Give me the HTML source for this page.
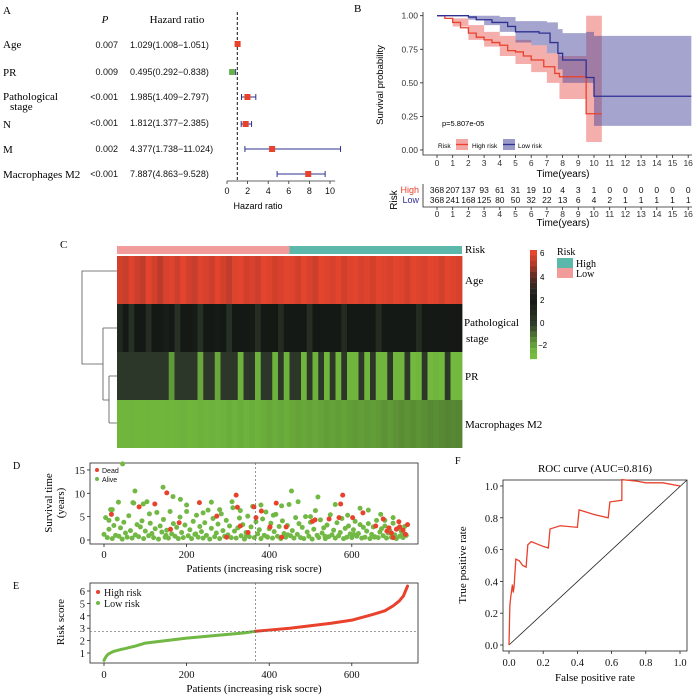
<!DOCTYPE html>
<html><head><meta charset="utf-8">
<style>
body{margin:0;background:#fff;}
svg{display:block;}
.serif{font-family:"Liberation Serif",serif;}
.sans{font-family:"Liberation Sans",sans-serif;}
</style></head>
<body>
<svg id="fig" width="700" height="700" viewBox="0 0 700 700">
<rect width="700" height="700" fill="#fff"/>
<g id="pA">
<text x="3" y="14" class="serif" font-size="11">A</text>
<text x="105" y="23" class="serif" font-size="11" font-style="italic" text-anchor="middle">P</text>
<text x="177" y="23" class="serif" font-size="11" text-anchor="middle">Hazard ratio</text>
<g class="serif" font-size="11">
<text x="3" y="48">Age</text><text x="3" y="76">PR</text>
<text x="3" y="100">Pathological</text><text x="10" y="110">stage</text>
<text x="3" y="128">N</text><text x="3" y="153">M</text><text x="3" y="178">Macrophages M2</text>
</g>
<g class="sans" font-size="9" text-anchor="end" fill="#111">
<text x="118" y="48">0.007</text><text x="118" y="75">0.009</text><text x="118" y="100">&lt;0.001</text>
<text x="118" y="126">&lt;0.001</text><text x="118" y="152">0.002</text><text x="118" y="177">&lt;0.001</text>
</g>
<g class="sans" font-size="9" fill="#111">
<text x="130" y="48">1.029(1.008−1.051)</text><text x="130" y="75">0.495(0.292−0.838)</text>
<text x="130" y="100">1.985(1.409−2.797)</text><text x="130" y="126">1.812(1.377−2.385)</text>
<text x="130" y="152">4.377(1.738−11.024)</text><text x="130" y="177">7.887(4.863−9.528)</text>
</g>
<text x="258" y="209" class="sans" font-size="9" text-anchor="middle">Hazard ratio</text>
</g>
<g id="pB">
<text x="354" y="12" class="serif" font-size="11">B</text>
<text transform="translate(383,85) rotate(-90)" class="sans" font-size="9.5" text-anchor="middle">Survival probability</text>
<text x="442" y="126" class="sans" font-size="7.5">p=5.807e-05</text>
<text x="563" y="177" class="sans" font-size="10" text-anchor="middle">Time(years)</text>
<text x="563" y="226" class="sans" font-size="10" text-anchor="middle">Time(years)</text>
<text transform="translate(397,200) rotate(-90)" class="sans" font-size="10" text-anchor="middle">Risk</text>
<text x="419" y="193" class="sans" font-size="9" text-anchor="end" fill="#e8412c">High</text>
<text x="419" y="203" class="sans" font-size="9" text-anchor="end" fill="#2e3192">Low</text>
<g>
<text x="438" y="148" class="sans" font-size="6.5">Risk</text>
<rect x="456" y="139" width="12" height="11" fill="#f4a6a4"/><line x1="456" y1="144.5" x2="468" y2="144.5" stroke="#e8412c" stroke-width="1.3"/>
<text x="472" y="148" class="sans" font-size="6.5">High risk</text>
<rect x="503" y="139" width="12" height="11" fill="#9a9ac8"/><line x1="503" y1="144.5" x2="515" y2="144.5" stroke="#2e3192" stroke-width="1.3"/>
<text x="518" y="148" class="sans" font-size="6.5">Low risk</text>
</g>
</g>
<g id="pC">
<text x="60" y="248" class="serif" font-size="11">C</text>
<g class="serif" font-size="11">
<text x="465" y="253">Risk</text><text x="465" y="284">Age</text>
<text x="464" y="326">Pathological</text><text x="466" y="342">stage</text>
<text x="465" y="380">PR</text><text x="465" y="428">Macrophages M2</text>
</g>
<g class="sans" font-size="8">
<text x="540" y="256">6</text><text x="540" y="280">4</text><text x="540" y="303">2</text><text x="540" y="326">0</text><text x="538" y="348">−2</text>
</g>
<g>
<text x="557" y="255" class="serif" font-size="10">Risk</text>
<rect x="557" y="258" width="16" height="10" fill="#5cb8ab"/><text x="576" y="267" class="serif" font-size="10">High</text>
<rect x="557" y="268" width="16" height="10" fill="#f29b9b"/><text x="576" y="277" class="serif" font-size="10">Low</text>
</g>
</g>
<g id="pD">
<text x="13" y="469" class="serif" font-size="10">D</text>
<text transform="translate(52,503) rotate(-90)" class="serif" font-size="11" text-anchor="middle">Survival time</text>
<text transform="translate(64,503) rotate(-90)" class="serif" font-size="11" text-anchor="middle">(years)</text>
<text x="254" y="572" class="serif" font-size="11" text-anchor="middle">Patients (increasing risk socre)</text>
</g>
<g id="pE">
<text x="13" y="589" class="serif" font-size="10">E</text>
<text transform="translate(64,622) rotate(-90)" class="serif" font-size="11" text-anchor="middle">Risk score</text>
<text x="254" y="692" class="serif" font-size="11" text-anchor="middle">Patients (increasing risk socre)</text>
</g>
<g id="pF">
<text x="455" y="464" class="serif" font-size="10">F</text>
<text x="595" y="472" class="serif" font-size="11" text-anchor="middle">ROC curve (AUC=0.816)</text>
<text transform="translate(466,565) rotate(-90)" class="serif" font-size="11" text-anchor="middle">True positive rate</text>
<text x="595" y="681" class="serif" font-size="11" text-anchor="middle">False positive rate</text>
</g>
</svg>
<script>
// ---------- data ----------
const forestHR=[1.029,0.495,1.985,1.812,4.377,7.887];
const forestLo=[1.008,0.292,1.409,1.377,1.738,4.863];
const forestHi=[1.051,0.838,2.797,2.385,11.024,9.528];
const forestTicks=[0,2,4,6,8,10];

const kmHighT=[0,0.5,1,1.5,2,2.5,3,3.5,4,4.5,5,5.5,6,6.8,7.5,7.8,9.5,10.5];
const kmHighS=[1,0.98,0.95,0.91,0.87,0.84,0.82,0.8,0.78,0.74,0.73,0.7,0.67,0.62,0.57,0.545,0.27,0.27];
const kmHighBandT=[0,1,2,3,4,5,6,7,7.8,9.5,10.5];
const kmHighLo=[1,0.92,0.82,0.77,0.7,0.64,0.58,0.5,0.38,0.06,0.06];
const kmHighUp=[1,0.98,0.93,0.88,0.85,0.82,0.78,0.72,0.7,1.0,1.0];
const kmLowT=[0,2,2.5,3.5,4.5,5,6.5,7.2,7.7,8,9.5,10,16.2];
const kmLowS=[1,0.99,0.97,0.95,0.92,0.88,0.87,0.8,0.72,0.67,0.54,0.4,0.4];
const kmLowBandT=[0,2,3,4,5,6,7,7.7,8,9.5,10,16.2];
const kmLowLo=[1,0.97,0.93,0.88,0.8,0.78,0.72,0.6,0.5,0.5,0.18,0.18];
const kmLowUp=[1,1,1,0.99,0.96,0.96,0.95,0.9,0.87,0.88,0.85,0.85];
const kmYTicks=[0,0.25,0.5,0.75,1.0];
const kmYLabels=["0.00","0.25","0.50","0.75","1.00"];
const kmXTicks=[0,1,2,3,4,5,6,7,8,9,10,11,12,13,14,15,16];
const riskHigh=[368,207,137,93,61,31,19,10,4,3,1,0,0,0,0,0,0];
const riskLow=[368,241,168,125,80,50,32,22,13,6,4,2,1,1,1,1,1];

const heatAge=[5.6,5.4,5.8,5.5,5.3,5.9,5.6,5.2,5.7,5.8,5.5,5.9,5.6,5.4,5.8,5.7,5.5,5.9,5.6,5.3,5.8,5.9,5.6,5.7,5.5,5.9,5.8,5.6,5.7,5.9,5.8,5.6,5.9,5.7,5.5,5.9,5.8,5.7,5.9,5.6,5.8,5.9,5.7,5.8,5.6,5.9,5.8,5.7,5.9,5.8,5.6,5.9,5.8,5.7,5.9,5.8,5.6,5.9,5.8,5.7];
const heatPath=[1.2,2.0,0.8,2.0,2.0,0.9,2.0,2.0,1.8,2.0,0.8,2.0,2.0,1.9,0.8,2.0,2.0,1.9,2.0,0.8,2.0,2.0,2.0,1.9,0.9,2.0,2.0,2.0,1.0,2.0,2.0,2.0,2.0,0.9,2.0,2.0,2.0,2.0,2.0,1.0,2.0,2.0,2.0,2.0,2.0,1.0,2.0,2.0,2.0,2.0,2.0,2.0,1.0,2.0,2.0,2.0,2.0,2.0,2.0,2.0];
const heatPR=[0.4,0.4,0.4,0.4,0.4,0.4,0.4,0.4,0.4,-1.5,0.4,0.4,0.4,0.4,-1.8,0.4,0.4,-1.8,0.4,0.4,0.4,-2,0.4,0.4,-2,0.4,0.4,-2,0.4,-2,0.4,0.4,-2.2,0.4,-2,0.4,-2.2,0.4,-2.2,0.4,-2.2,-2.2,0.4,-2.2,0.4,-2.2,-2.2,0.4,-2.2,-2.2,0.4,-2.4,-2.2,0.4,-2.4,-2.2,-2.4,0.4,-2.4,-2.4];
const heatMac=[-2.2,-2.2,-2.1,-2.2,-2.2,-2.1,-2.2,-2.2,-2.1,-2.2,-2.1,-2.0,-2.2,-2.1,-2.0,-2.1,-2.0,-2.1,-2.0,-1.9,-2.0,-1.9,-2.0,-1.9,-2.0,-1.9,-1.8,-1.9,-1.8,-1.9,-1.8,-1.7,-1.8,-1.7,-1.8,-1.7,-1.6,-1.7,-1.6,-1.7,-1.6,-1.5,-1.6,-1.5,-1.6,-1.5,-1.4,-1.5,-1.4,-1.3,-1.4,-1.3,-1.4,-1.3,-1.2,-1.3,-1.2,-1.1,-1.2,-1.1];

const aliveTimes=[1.2,4.8,0.5,2.3,6.5,0.3,3.1,1.0,4.5,0.8,2.6,0.2,3.8,1.5,0.6,5.2,2.0,0.4,7.9,1.1,3.3,0.7,2.8,4.1,0.3,1.9,8.2,0.9,3.6,1.4,0.5,2.4,5.9,0.2,3.0,1.7,4.4,0.6,2.1,0.4,6.1,1.3,3.5,0.8,2.7,0.3,4.9,1.6,0.5,3.2,7.5,0.9,2.2,0.3,4.0,1.2,5.3,0.6,2.9,1.8,0.4,3.7,1.0,6.4,0.2,2.5,4.6,0.7,1.5,3.4,0.3,5.6,2.0,0.8,4.2,1.1,3.0,0.5,6.9,1.9,0.4,2.6,4.7,0.9,3.3,0.2,1.6,5.1,0.7,2.8,7.2,0.5,3.9,1.3,2.2,0.3,4.5,1.0,6.0,0.6,2.4,3.6,0.4,1.8,5.5,0.8,2.9,0.3,4.1,1.4,0.6,3.1,7.6,0.9,2.0,0.4,4.8,1.2,3.5,0.5,2.7,0.3,5.0,1.7,0.8,3.8,0.2,2.3,6.3,1.0,0.5,4.3,1.5,2.6,0.3,3.2,0.7,5.4,1.1,2.1,0.4,3.7,0.9,1.6,4.6,0.3,2.5,0.6,3.0,1.3,0.5,2.2,4.0,0.8,1.4,3.3,0.4,2.7,0.6,1.9,3.5,0.3,1.2,2.8,0.7,4.2,0.5,1.7,2.4,0.9,3.0,0.4,1.5,2.0,0.6,3.6,1.1,0.3,2.5,0.8,1.8,0.5,2.9,1.0];
const aliveExtraIdx=[45,75,143,167,454,518,260,35,70,95,185,310,380,430,560,620,640,670,700,330,410,500,20,110,200,240,280,470,590,680,12,150,222,345,395,445,535,605,655,725];
const aliveExtraT=[16.3,10.5,11.3,9.3,10.5,9.2,8.1,8.1,8.0,7.7,8.7,8.2,7.5,7.3,7.6,6.8,6.4,5.5,4.8,6.3,5.3,5.0,6.5,5.6,6.1,5.8,6.5,8.2,5.3,4.2,4.2,1.0,1.3,0.9,0.7,1.1,0.8,1.2,0.6,1.0];
const deadIdx=[18,85,123,152,161,182,231,273,297,320,323,330,349,363,368,381,402,417,441,430,505,511,545,569,573,578,602,627,658,676,685,696,708,716,724,714,730,735,700,690];
const deadT=[5.5,7.1,7.7,10.1,2.3,3.7,8.0,5.1,0.6,9.6,7.0,3.0,1.6,7.1,4.8,6.2,2.8,7.9,2.8,0.6,4.0,4.3,4.5,4.8,7.7,9.6,4.8,5.8,3.0,4.5,1.9,1.5,2.3,2.8,2.1,3.9,1.2,3.3,0.5,2.6];
const dXTicks=[0,200,400,600];
const dYTicks=[0,5,10,15];

const riskIdx=[0,3,6,10,18,25,40,50,75,100,150,200,250,300,340,367,400,450,500,550,600,650,680,700,715,725,730,735];
const riskScore=[0.4,0.6,0.75,0.9,1.05,1.15,1.28,1.35,1.55,1.8,2.0,2.2,2.35,2.5,2.62,2.75,2.85,3.0,3.2,3.4,3.65,4.1,4.4,4.8,5.2,5.6,6.0,6.4];
const riskCut=367;
const eYTicks=[1,2,3,4,5,6];

const rocFPR=[0,0.005,0.01,0.02,0.025,0.03,0.04,0.06,0.08,0.1,0.11,0.13,0.2,0.23,0.24,0.3,0.4,0.41,0.5,0.58,0.59,0.66,0.66,0.75,0.8,0.9,1.0];
const rocTPR=[0,0.25,0.3,0.38,0.33,0.37,0.54,0.53,0.5,0.49,0.63,0.65,0.62,0.61,0.73,0.75,0.74,0.85,0.82,0.8,0.9,0.91,1.04,1.03,1.02,1.02,1.0];
const rocTicks=[0,0.2,0.4,0.6,0.8,1.0];

// ---------- helpers ----------
const NS="http://www.w3.org/2000/svg";
function add(parent,tag,attrs,name,inter){
  const el=document.createElementNS(NS,tag);
  for(const k in attrs) el.setAttribute(k,attrs[k]);
  
  
  document.getElementById(parent).appendChild(el);
  return el;
}
function txt(parent,x,y,s,cls,size,anchor,name,fill){
  const t=add(parent,'text',{x:x,y:y,'class':cls,'font-size':size,'text-anchor':anchor||'start',fill:fill||'#111'},name,false);
  t.textContent=s;return t;
}
function stepPath(ts,vs,fx,fy){
  let d='M'+fx(ts[0])+','+fy(vs[0]);
  for(let i=1;i<ts.length;i++){d+=' H'+fx(ts[i])+' V'+fy(vs[i]);}
  return d;
}
function bandPath(ts,lo,up,fx,fy){
  let d='M'+fx(ts[0])+','+fy(up[0]);
  for(let i=1;i<ts.length;i++){d+=' H'+fx(ts[i])+' V'+fy(up[i]);}
  for(let i=ts.length-1;i>=0;i--){d+=' V'+fy(lo[i]);if(i>0)d+=' H'+fx(ts[i]);}
  return d+' Z';
}

// ---------- Panel A ----------
const aX=v=>227+v*10.3;
const aRows=[44,72,97,124,149,174];
add('pA','line',{x1:aX(1),y1:12,x2:aX(1),y2:181,stroke:'#111','stroke-dasharray':'3,2','stroke-width':1},'reference-line-hr1',false);
add('pA','line',{x1:aX(0),y1:181,x2:aX(10.5),y2:181,stroke:'#333','stroke-width':0.8},'forest-x-axis',false);
forestTicks.forEach(v=>{
  add('pA','line',{x1:aX(v),y1:181,x2:aX(v),y2:184,stroke:'#333','stroke-width':0.8},'forest-tick',false);
  txt('pA',aX(v),194,String(v),'sans',9,'middle','forest-tick-label');
});
forestHR.forEach((h,i)=>{
  const y=aRows[i];
  add('pA','line',{x1:aX(forestLo[i]),y1:y,x2:aX(forestHi[i]),y2:y,stroke:'#2e3192','stroke-width':1},'ci-line',false);
  add('pA','line',{x1:aX(forestLo[i]),y1:y-3,x2:aX(forestLo[i]),y2:y+3,stroke:'#2e3192','stroke-width':1},'ci-cap',false);
  add('pA','line',{x1:aX(forestHi[i]),y1:y-3,x2:aX(forestHi[i]),y2:y+3,stroke:'#2e3192','stroke-width':1},'ci-cap',false);
  add('pA','rect',{x:aX(h)-3,y:y-3,width:6,height:6,fill:h<1?'#6ab04c':'#e8412c'},'hr-marker',false);
});

// ---------- Panel B ----------
const bX=t=>437+t*15.7;
const bY=s=>150-s*134.3;
add('pB','path',{d:bandPath(kmHighBandT,kmHighLo,kmHighUp,bX,bY),fill:'#f08b88','fill-opacity':0.7},'high-risk-ci-band',false);
add('pB','path',{d:bandPath(kmLowBandT,kmLowLo,kmLowUp,bX,bY),fill:'#4b4a9e','fill-opacity':0.5},'low-risk-ci-band',false);
add('pB','path',{d:stepPath(kmHighT,kmHighS,bX,bY),fill:'none',stroke:'#e8412c','stroke-width':1.3},'high-risk-curve',false);
add('pB','path',{d:stepPath(kmLowT,kmLowS,bX,bY),fill:'none',stroke:'#2e3192','stroke-width':1.3},'low-risk-curve',false);
add('pB','path',{d:'M423,12 V155 H692',fill:'none',stroke:'#222','stroke-width':0.8},'km-axes',false);
kmYTicks.forEach((v,i)=>{
  add('pB','line',{x1:420,y1:bY(v),x2:423,y2:bY(v),stroke:'#222','stroke-width':0.8},'km-y-tick',false);
  txt('pB',418,bY(v)+3,kmYLabels[i],'sans',8.5,'end','km-y-tick-label','#333');
});
add('pB','path',{d:'M423,184 V207 H692',fill:'none',stroke:'#222','stroke-width':0.8},'table-axes',false);
kmXTicks.forEach((v,i)=>{
  add('pB','line',{x1:bX(v),y1:155,x2:bX(v),y2:158,stroke:'#222','stroke-width':0.8},'km-x-tick',false);
  txt('pB',bX(v),166,String(v),'sans',8.5,'middle','km-x-tick-label','#333');
  add('pB','line',{x1:bX(v),y1:207,x2:bX(v),y2:210,stroke:'#222','stroke-width':0.8},'table-x-tick',false);
  txt('pB',bX(v),217,String(v),'sans',8.5,'middle','table-x-tick-label','#333');
  txt('pB',bX(v),193,String(riskHigh[i]),'sans',8.5,'middle','risk-high-count');
  txt('pB',bX(v),203,String(riskLow[i]),'sans',8.5,'middle','risk-low-count');
});

// ---------- Panel C ----------
const hmX0=117,hmX1=462;
const hmRows=[[heatAge,256],[heatPath,304],[heatPR,352],[heatMac,400]];
const stops=[[-3,[124,196,67]],[-2,[109,178,60]],[-1,[82,127,50]],[0,[51,63,46]],[2,[21,25,21]],[3,[42,38,36]],[4,[92,42,34]],[5,[176,57,42]],[6,[232,69,46]]];
function cmap(v){
  if(v<=stops[0][0])return 'rgb('+stops[0][1]+')';
  for(let i=1;i<stops.length;i++){
    if(v<=stops[i][0]){const a=stops[i-1],b=stops[i],f=(v-a[0])/(b[0]-a[0]);
      return 'rgb('+a[1].map((c,j)=>Math.round(c+(b[1][j]-c)*f)).join(',')+')';}
  }
  return 'rgb('+stops[stops.length-1][1]+')';
}
add('pC','rect',{x:hmX0,y:246,width:(hmX1-hmX0)/2,height:8,fill:'#f29b9b'},'risk-bar-low',false);
add('pC','rect',{x:(hmX0+hmX1)/2,y:246,width:(hmX1-hmX0)/2,height:8,fill:'#5cb8ab'},'risk-bar-high',false);
hmRows.forEach(r=>{
  const vals=r[0],w=(hmX1-hmX0)/vals.length;
  vals.forEach((v,i)=>{
    add('pC','rect',{x:hmX0+i*w,y:r[1],width:w+0.4,height:48,fill:cmap(v)},'heatmap-cell',false);
  });
});
add('pC','path',{d:'M117,271 H82 V364 H103 M103,328 V400 M103,328 H117 M103,400 H109 M109,376 V423 M109,376 H117 M109,423 H117',fill:'none',stroke:'#555','stroke-width':0.8},'dendrogram',false);
for(let i=0;i<20;i++){
  const v=6-i*9/20;
  add('pC','rect',{x:530,y:250+i*5.45,width:7,height:5.6,fill:cmap(v)},'colorbar-segment',false);
}

// ---------- Panel D ----------
const pX=p=>104+p*0.413;
const dY=t=>540-t*4.67;
add('pD','rect',{x:90,y:463,width:328,height:81,fill:'none',stroke:'#222','stroke-width':0.8},'d-plot-frame',false);
dXTicks.forEach(v=>{
  add('pD','line',{x1:pX(v),y1:544,x2:pX(v),y2:547,stroke:'#222','stroke-width':0.8},'d-x-tick',false);
  txt('pD',pX(v),558,String(v),'serif',10.5,'middle','d-x-tick-label');
});
dYTicks.forEach(v=>{
  add('pD','line',{x1:87,y1:dY(v),x2:90,y2:dY(v),stroke:'#222','stroke-width':0.8},'d-y-tick',false);
  txt('pD',85,dY(v)+4,String(v),'serif',10.5,'end','d-y-tick-label');
});
aliveTimes.forEach((t,i)=>{
  add('pD','circle',{cx:pX(i*4),cy:dY(t),r:2.5,fill:'#72b844'},'alive-point',false);
});
aliveExtraIdx.forEach((p,i)=>{
  add('pD','circle',{cx:pX(p),cy:dY(aliveExtraT[i]),r:2.5,fill:'#72b844'},'alive-point',false);
});
deadIdx.forEach((p,i)=>{
  add('pD','circle',{cx:pX(p),cy:dY(deadT[i]),r:2.5,fill:'#e8412c'},'dead-point',false);
});
add('pD','line',{x1:pX(riskCut),y1:463,x2:pX(riskCut),y2:544,stroke:'#666','stroke-width':0.7,'stroke-dasharray':'2,2'},'d-cutoff-line',false);
add('pD','circle',{cx:97,cy:470,r:2,fill:'#e8412c'},'legend-dead-marker',false);
txt('pD',102,473,'Dead','sans',7,'start','legend-dead-label');
add('pD','circle',{cx:97,cy:479,r:2,fill:'#72b844'},'legend-alive-marker',false);
txt('pD',102,482,'Alive','sans',7,'start','legend-alive-label');

// ---------- Panel E ----------
const eY=v=>653-(v-1)*12.4;
add('pE','rect',{x:90,y:583,width:328,height:80,fill:'none',stroke:'#222','stroke-width':0.8},'e-plot-frame',false);
dXTicks.forEach(v=>{
  add('pE','line',{x1:pX(v),y1:663,x2:pX(v),y2:666,stroke:'#222','stroke-width':0.8},'e-x-tick',false);
  txt('pE',pX(v),678,String(v),'serif',10.5,'middle','e-x-tick-label');
});
eYTicks.forEach(v=>{
  add('pE','line',{x1:87,y1:eY(v),x2:90,y2:eY(v),stroke:'#222','stroke-width':0.8},'e-y-tick',false);
  txt('pE',85,eY(v)+4,String(v),'serif',10.5,'end','e-y-tick-label');
});
let lowPts=[],highPts=[];
riskIdx.forEach((p,i)=>{
  const pt=pX(p)+','+eY(riskScore[i]);
  if(p<=riskCut)lowPts.push(pt);
  if(p>=riskCut)highPts.push(pt);
});
add('pE','polyline',{points:lowPts.join(' '),fill:'none',stroke:'#72b844','stroke-width':3,'stroke-linejoin':'round','stroke-linecap':'round'},'low-risk-score-curve',false);
add('pE','polyline',{points:highPts.join(' '),fill:'none',stroke:'#e8412c','stroke-width':3,'stroke-linejoin':'round','stroke-linecap':'round'},'high-risk-score-curve',false);
add('pE','line',{x1:pX(riskCut),y1:583,x2:pX(riskCut),y2:663,stroke:'#666','stroke-width':0.7,'stroke-dasharray':'2,2'},'e-cutoff-vline',false);
add('pE','line',{x1:90,y1:eY(2.75),x2:418,y2:eY(2.75),stroke:'#666','stroke-width':0.7,'stroke-dasharray':'2,2'},'e-cutoff-hline',false);
add('pE','circle',{cx:98,cy:592,r:2,fill:'#e8412c'},'legend-high-marker',false);
txt('pE',104,596,'High risk','serif',10,'start','legend-high-label');
add('pE','circle',{cx:98,cy:603,r:2,fill:'#72b844'},'legend-low-marker',false);
txt('pE',104,607,'Low risk','serif',10,'start','legend-low-label');

// ---------- Panel F ----------
const fX=v=>509+v*171;
const fY=v=>645-v*159;
add('pF','rect',{x:503,y:480,width:184,height:171,fill:'none',stroke:'#222','stroke-width':0.8},'roc-plot-frame',false);
rocTicks.forEach(v=>{
  add('pF','line',{x1:fX(v),y1:651,x2:fX(v),y2:654,stroke:'#222','stroke-width':0.8},'roc-x-tick',false);
  txt('pF',fX(v),666,v.toFixed(1),'serif',10.5,'middle','roc-x-tick-label');
  add('pF','line',{x1:500,y1:fY(v),x2:503,y2:fY(v),stroke:'#222','stroke-width':0.8},'roc-y-tick',false);
  txt('pF',498,fY(v)+4,v.toFixed(1),'serif',10.5,'end','roc-y-tick-label');
});
add('pF','line',{x1:fX(0),y1:fY(0),x2:687,y2:480,stroke:'#222','stroke-width':0.8},'roc-diagonal',false);
add('pF','polyline',{points:rocFPR.map((f,i)=>fX(f)+','+fY(rocTPR[i])).join(' '),fill:'none',stroke:'#e8412c','stroke-width':1.3},'roc-curve',false);
</script>
</body></html>
